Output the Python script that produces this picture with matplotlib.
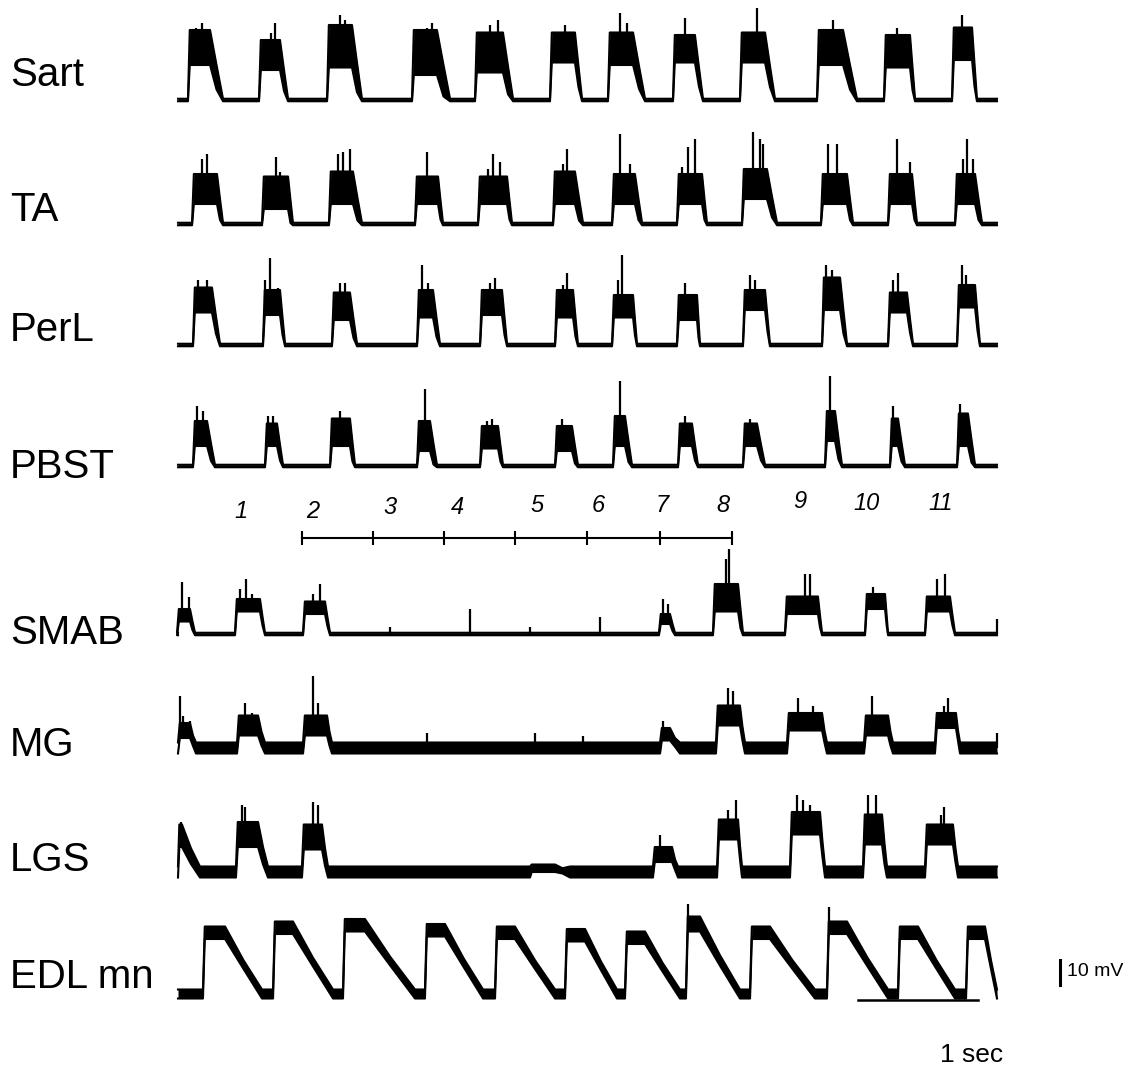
import numpy as np
import matplotlib
matplotlib.use("Agg")
from matplotlib import pyplot as plt

plt.rcParams['font.family'] = ['Liberation Sans', 'DejaVu Sans']

# time in s, amplitude in mV (relative to each trace's baseline)
# bursts: (onset, end of dense body, back to baseline, body top, body bottom)
sart_bursts = [(0.108, 0.292, 0.400, 28, 14), (0.700, 0.875, 0.942, 24, 12), (1.267, 1.475, 1.558, 30, 13),
               (1.975, 2.183, 2.292, 28, 10), (2.500, 2.733, 2.817, 27, 11), (3.125, 3.333, 3.392, 27, 15),
               (3.608, 3.817, 3.917, 27, 14), (4.150, 4.333, 4.400, 26, 15), (4.708, 4.917, 5.000, 27, 15),
               (5.350, 5.567, 5.683, 28, 14), (5.908, 6.125, 6.167, 26, 13), (6.475, 6.642, 6.683, 29, 16)]
sart_spikes = [(0.175, 29), (0.225, 31), (0.800, 27), (0.833, 31), (1.375, 34), (1.417, 32), (2.100, 29),
               (2.142, 31), (2.625, 30), (2.692, 32), (3.250, 30), (3.708, 35), (3.767, 31), (4.250, 33),
               (4.850, 37), (5.483, 32), (6.017, 29), (6.558, 34)]

ta_bursts = [(0.142, 0.350, 0.400, 20, 8), (0.725, 0.942, 0.983, 19, 6), (1.283, 1.483, 1.558, 21, 8),
             (2.000, 2.192, 2.233, 19, 8), (2.525, 2.767, 2.808, 19, 8), (3.150, 3.333, 3.400, 21, 8),
             (3.642, 3.833, 3.892, 20, 8), (4.183, 4.392, 4.433, 20, 8), (4.725, 4.933, 5.017, 22, 10),
             (5.383, 5.600, 5.650, 20, 8), (5.942, 6.142, 6.183, 20, 8), (6.500, 6.667, 6.725, 20, 8)]
ta_spikes = [(0.225, 26), (0.267, 28), (0.767, 19), (0.842, 27), (0.875, 21), (1.358, 28), (1.400, 29),
             (1.458, 30), (2.100, 29), (2.608, 22), (2.650, 28), (2.708, 25), (3.233, 24), (3.267, 30),
             (3.708, 36), (3.792, 24), (4.225, 23), (4.275, 31), (4.333, 34), (4.817, 37), (4.875, 34),
             (4.900, 32), (5.442, 32), (5.517, 32), (6.017, 34), (6.125, 25), (6.567, 26), (6.600, 34),
             (6.650, 26)]

perl_bursts = [(0.150, 0.308, 0.375, 23, 13), (0.733, 0.875, 0.917, 22, 12), (1.308, 1.458, 1.517, 21, 10),
               (2.017, 2.150, 2.208, 22, 11), (2.542, 2.725, 2.767, 22, 12), (3.167, 3.317, 3.358, 22, 11),
               (3.642, 3.817, 3.850, 20, 11), (4.183, 4.350, 4.375, 20, 10), (4.733, 4.917, 4.958, 22, 14),
               (5.392, 5.542, 5.600, 27, 14), (5.942, 6.100, 6.150, 21, 13), (6.517, 6.667, 6.708, 24, 15)]
perl_spikes = [(0.192, 26), (0.267, 26), (0.750, 26), (0.792, 35), (0.858, 23), (1.375, 25), (1.417, 25),
               (2.058, 32), (2.108, 25), (2.625, 25), (2.667, 27), (3.233, 24), (3.267, 29), (3.692, 26),
               (3.725, 36), (4.250, 25), (4.792, 28), (4.833, 26), (5.425, 32), (5.475, 30), (5.983, 26),
               (6.025, 29), (6.558, 32), (6.592, 28)]

pbst_bursts = [(0.150, 0.267, 0.333, 18, 8), (0.750, 0.850, 0.900, 17, 8), (1.292, 1.458, 1.500, 19, 8),
               (2.017, 2.125, 2.183, 18, 6), (2.542, 2.692, 2.733, 16, 7), (3.167, 3.308, 3.358, 16, 6),
               (3.650, 3.750, 3.808, 20, 8), (4.192, 4.308, 4.358, 17, 8), (4.733, 4.850, 4.917, 17, 8),
               (5.417, 5.500, 5.558, 22, 10), (5.958, 6.025, 6.083, 19, 8), (6.517, 6.608, 6.667, 21, 8)]
pbst_spikes = [(0.183, 24), (0.233, 22), (0.775, 20), (0.817, 20), (1.375, 22), (2.083, 31), (2.600, 18),
               (2.642, 19), (3.225, 19), (3.708, 34), (4.250, 20), (4.792, 19), (5.458, 36), (5.983, 24),
               (6.542, 25)]

smab_bursts = [(0.017, 0.125, 0.167, 10, 5), (0.500, 0.708, 0.750, 14, 9), (1.067, 1.250, 1.292, 13, 8),
               (4.033, 4.125, 4.167, 8, 4), (4.483, 4.692, 4.733, 20, 9), (5.083, 5.358, 5.392, 15, 8),
               (5.750, 5.917, 5.942, 16, 10), (6.250, 6.458, 6.500, 15, 9)]
smab_spikes = [(0.058, 21), (0.117, 15), (0.542, 18), (0.592, 22), (0.642, 16), (1.150, 16), (1.208, 20),
               (1.792, 3), (2.458, 10), (2.958, 3), (3.542, 7), (4.067, 14), (4.108, 12), (4.592, 30),
               (4.617, 34), (5.250, 24), (5.292, 24), (5.817, 19), (6.350, 22), (6.417, 24), (6.850, 6)]

mg_bursts = [(0.025, 0.125, 0.175, 10, 4), (0.517, 0.692, 0.750, 13, 5), (1.067, 1.267, 1.308, 13, 5),
             (4.042, 4.125, 4.208, 8, 3), (4.508, 4.708, 4.750, 17, 9), (5.100, 5.392, 5.433, 14, 7),
             (5.742, 5.942, 5.983, 13, 5), (6.333, 6.508, 6.542, 14, 8)]
mg_spikes = [(0.042, 21), (0.067, 13), (0.125, 11), (0.583, 18), (0.642, 14), (1.150, 29), (1.192, 18),
             (2.100, 6), (3.000, 6), (3.400, 5), (4.067, 11), (4.608, 24), (4.650, 23), (5.192, 20),
             (5.317, 17), (5.808, 21), (6.408, 17), (6.442, 20), (6.850, 6)]

lgs_bursts = [(0.025, 0.058, 0.208, 19, 10), (0.508, 0.692, 0.775, 20, 10), (1.058, 1.225, 1.275, 19, 9),
              (2.958, 3.167, 3.292, 3, 0), (3.983, 4.142, 4.192, 10, 4), (4.517, 4.692, 4.725, 21, 13),
              (5.125, 5.375, 5.417, 24, 15), (5.733, 5.892, 5.933, 23, 11), (6.250, 6.483, 6.525, 19, 11)]
lgs_spikes = [(0.050, 20), (0.558, 27), (0.583, 26), (0.667, 20), (1.150, 28), (1.192, 27), (4.042, 15),
              (4.608, 25), (4.675, 29), (5.183, 31), (5.233, 29), (5.292, 27), (5.775, 31), (5.842, 31),
              (6.383, 23), (6.408, 26)]

edl_bursts = [(0.233, 0.417, 0.725, 27, 22), (0.817, 0.983, 1.317, 29, 24), (1.400, 1.583, 2.000, 30, 25),
              (2.083, 2.250, 2.567, 28, 23), (2.667, 2.833, 3.167, 27, 22), (3.250, 3.417, 3.683, 26, 21),
              (3.750, 3.917, 4.208, 25, 20), (4.258, 4.375, 4.708, 31, 25), (4.792, 4.958, 5.333, 27, 22),
              (5.433, 5.600, 5.942, 29, 24), (6.025, 6.192, 6.500, 27, 22), (6.592, 6.750, 6.850, 27, 22)]
edl_spikes = [(4.275, 36), (5.450, 35)]

names = ['Sart', 'TA', 'PerL', 'PBST', 'SMAB', 'MG', 'LGS', 'EDL mn']
all_bursts = [sart_bursts, ta_bursts, perl_bursts, pbst_bursts, smab_bursts, mg_bursts, lgs_bursts, edl_bursts]
all_spikes = [sart_spikes, ta_spikes, perl_spikes, pbst_spikes, smab_spikes, mg_spikes, lgs_spikes, edl_spikes]
noise = [0.5, 0.5, 0.5, 0.5, 0.5, 2.2, 2.2, 1.8]

cycle_labels = ['1', '2', '3', '4', '5', '6', '7', '8', '9', '10', '11']
cycle_times = [0.55, 1.15, 1.79, 2.35, 3.02, 3.53, 4.06, 4.57, 5.21, 5.76, 6.38]
bracket_ticks = [1.058, 1.65, 2.242, 2.833, 3.433, 4.042, 4.642]

# layout (mV on the shared vertical axis)
offsets = [391.6, 342.0, 293.6, 245.2, 178.0, 132.4, 82.8, 34.0]
label_y = [401.6, 347.6, 299.6, 244.8, 178.4, 133.6, 87.6, 40.8]
cycle_y = [226.8, 226.8, 228.4, 228.4, 229.6, 229.6, 229.6, 229.6, 230.8, 230.4, 230.4]
t_start, t_end = 0.025, 6.85


def build(bursts, n):
    rows = [(t_start, -n, n)]
    for on, be, off, top, low in bursts:
        rise = min(0.015, (be - on) / 3)
        mid = (be + off) / 2
        rows += [(on, -n, n), (on + rise, low, top), (be, low, top),
                 (mid, max(top * 0.5 - (top - low) * 0.7, -n), top * 0.5), (off, -n, n)]
    rows.append((t_end, -n, n))
    return np.array(rows).T


def spike_floor(bursts, ts):
    # spikes start from the body of the burst they sit in
    out = []
    for ts_i in ts:
        low = 0
        for on, be, off, top, lo in bursts:
            if on <= ts_i <= off:
                low = lo
        out.append(low)
    return np.array(out)


fig = plt.figure(figsize=(11.23, 10.79), dpi=100)
ax = fig.add_axes([0, 0, 1, 1])
ax.set_xlim(-175 / 120, (1123 - 175) / 120)
ax.set_ylim(0, 1079 / 2.5)
ax.axis('off')

for name, bursts, spikes, n, off, ly in zip(names, all_bursts, all_spikes, noise, offsets, label_y):
    t, lo, hi = build(bursts, n)
    ax.fill_between(t, lo + off, hi + off, color='k', lw=0)
    ax.plot(t, hi + off, color='k', lw=1.5)
    ax.plot(t, lo + off, color='k', lw=1.5)
    st = np.array(spikes)
    ax.vlines(st[:, 0], spike_floor(bursts, st[:, 0]) + off, st[:, 1] + off, color='k', lw=1.6)
    ax.text(-165 / 120, ly, name, fontsize=29, va='center', ha='left')

for lab, ct, cy in zip(cycle_labels, cycle_times, cycle_y):
    ax.text(ct, cy, lab, fontsize=17, style='italic', ha='center', va='center')

ax.plot([bracket_ticks[0], bracket_ticks[-1]], [216.4, 216.4], color='k', lw=1.5)
ax.vlines(bracket_ticks, 213.6, 219.2, color='k', lw=1.5)

# scale bars
ax.plot([5.69, 6.69], [31.6, 31.6], color='k', lw=1.8)
ax.text(6.64, 9.6, '1 sec', fontsize=19, ha='center', va='center')
ax.plot([7.375, 7.375], [37.6, 47.6], color='k', lw=2.2)
ax.text(7.43, 43.2, '10 mV', fontsize=14, ha='left', va='center')

fig.savefig('out.png', dpi=100)
